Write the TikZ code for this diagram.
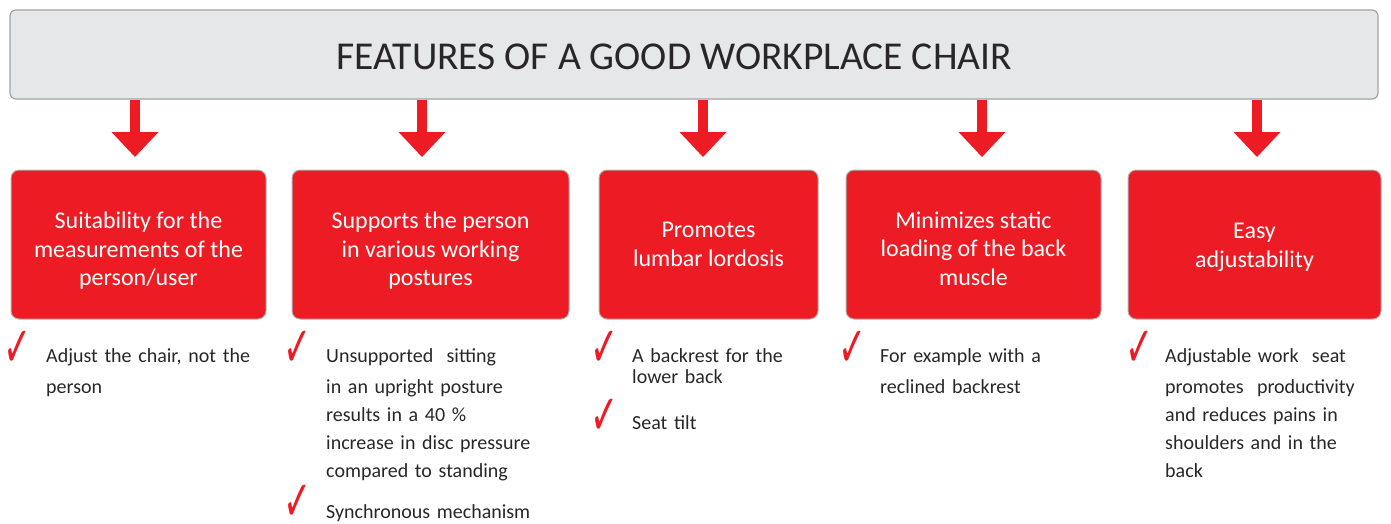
\documentclass[tikz,border=0pt]{standalone}
\usepackage{fontspec}
\setmainfont{Carlito}
\newfontfamily\checkfont{DejaVu Sans}
\usetikzlibrary{arrows.meta,positioning}
\definecolor{chred}{RGB}{237,28,36}
\definecolor{chgray}{RGB}{230,231,232}
\definecolor{chline}{RGB}{160,162,165}
\definecolor{chtext}{RGB}{40,38,40}
\tikzstyle{titlebox} = [draw=chline, line width=1.2pt, fill=chgray, rounded corners=6pt, minimum width=1368pt, minimum height=89pt, inner sep=0pt]
\tikzstyle{featbox} = [draw=black!30, line width=1pt, fill=chred, rounded corners=8pt, minimum height=149pt, inner sep=0pt, align=center, text=white, font=\fontsize{24}{28.5}\selectfont]
\tikzstyle{blockarrow} = [line width=10pt, color=chred, -{Triangle[width=47pt,length=25pt,line width=0pt]}]
\tikzstyle{bullet} = [anchor=base west, inner sep=0pt, text width=260pt, align=left, text=chtext, font=\fontsize{20}{28}\selectfont]
\tikzstyle{chkmark} = [anchor=base, inner sep=0pt, text depth=0pt, text=chred, font=\checkfont\fontsize{56}{56}\selectfont]
\newcommand{\chk}{\scalebox{0.6}[1]{✓}}

\begin{document}
\begin{tikzpicture}[x=1pt, y=-1pt]
\useasboundingbox (0,0) rectangle (1391,523);

% Heading
\node[titlebox] (title) at (694,54.5) {};
\node[anchor=base, inner sep=0pt, text=chtext, font=\fontsize{39.5}{42}\selectfont] (head) at (674,69) {FEATURES OF A GOOD WORKPLACE CHAIR};

% Feature boxes
\node[featbox, minimum width=255pt, text height=86pt] (b1) at (138.5,244.5) {Suitability for the\\measurements of the\\person/user};
\node[featbox, minimum width=277pt, text height=86pt] (b2) at (430.5,244.5) {Supports the person\\in various working\\postures};
\node[featbox, minimum width=219pt] (b3) at (708.5,244.5) {Promotes\\lumbar lordosis};
\node[featbox, minimum width=255pt, text height=82pt] (b4) at (973.5,244.5) {Minimizes static\\loading of the back\\muscle};
\node[featbox, minimum width=253pt, text height=50pt] (b5) at (1254.5,244.5) {Easy\\adjustability};

% Arrows
\coordinate (a1) at (135,157);
\coordinate (a2) at (422,157);
\coordinate (a3) at (703,157);
\coordinate (a4) at (982,157);
\coordinate (a5) at (1257,157);
\foreach \i in {1,...,5}
  \draw[blockarrow] (a\i |- title.south) -- (a\i);

% Check marks
\node[chkmark] (c1) at (18,366) {\chk};
\node[chkmark] (c2) at (298,366) {\chk};
\node[chkmark] (c3) at (605,366) {\chk};
\node[chkmark] (c4) at (853,366) {\chk};
\node[chkmark] (c5) at (1140,366) {\chk};
\node[chkmark] (c6) at (298,520) {\chk};
\node[chkmark] (c7) at (605,434) {\chk};

% Bullet texts
\node[bullet] (t1) at (46,362) {Adjust the chair, not the\\[3pt]person};
\node[bullet] (t2) at (326,362) {Unsupported\ \ sitting\\[3pt]in an upright posture\\results in a 40 \%\\increase in disc pressure\\compared to standing};
\node[bullet] (t3) at (632,362) {A backrest for the\\[-7pt]lower back};
\node[bullet] (t4) at (880,362) {For example with a\\[3pt]reclined backrest};
\node[bullet] (t5) at (1165,362) {Adjustable work\ \ seat\\[3pt]promotes\ \ productivity\\and reduces pains in\\shoulders and in the\\back};
\node[bullet] (t6) at (326,518) {Synchronous mechanism};
\node[bullet] (t7) at (632,429) {Seat tilt};
\end{tikzpicture}
\end{document}
